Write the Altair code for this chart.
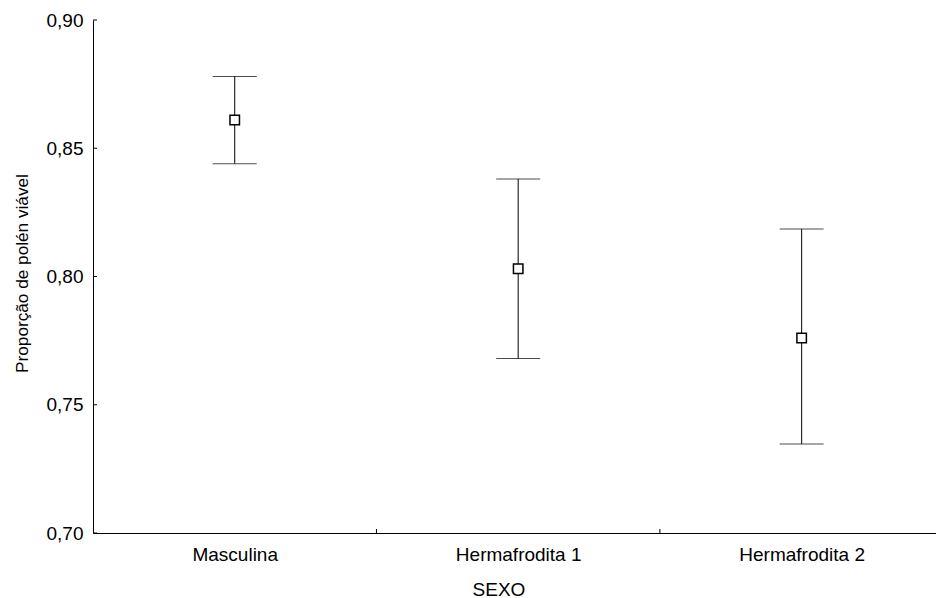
import json
import altair as alt
import pandas as pd

# ---- data ----
categories = ["Masculina", "Hermafrodita 1", "Hermafrodita 2"]
means = [0.861, 0.803, 0.776]
upper = [0.878, 0.838, 0.8185]
lower = [0.844, 0.768, 0.7347]
y_ticks = [0.70, 0.75, 0.80, 0.85, 0.90]
x_separators = [0.5, 1.5]

W, H = 843, 513
FONT = "Liberation Sans"
FS = 19

df = pd.DataFrame({
    "pos": list(range(len(categories))),
    "SEXO": categories,
    "mean": means,
    "upper": upper,
    "lower": lower,
})
ytick_df = pd.DataFrame({"v": y_ticks})
xtick_df = pd.DataFrame({"p": x_separators})

x_scale = alt.Scale(domain=[-0.5, 2.474], nice=False, zero=False)
y_scale = alt.Scale(domain=[0.70, 0.90], nice=False, zero=False)

label_expr = json.dumps(categories) + "[datum.value]"

x_axis = alt.Axis(
    values=[0, 1, 2], labelExpr=label_expr, tickSize=0, grid=False,
    labelFont=FONT, labelFontSize=FS, labelColor="black", labelPadding=12,
    labelFlush=False, labelOverlap=False, domainColor="black", domainWidth=1,
    title="SEXO", titleFont=FONT, titleFontSize=FS, titleFontWeight="normal",
    titleColor="black", titleX=405.5, titleY=62, titleBaseline="alphabetic",
    titleAlign="center",
)
y_axis = alt.Axis(
    values=y_ticks, labelExpr="replace(format(datum.value, '.2f'), '.', ',')",
    tickSize=0, grid=False, labelFont=FONT, labelFontSize=FS, labelColor="black",
    labelPadding=10, labelFlush=False, labelOverlap=False, domainColor="black",
    domainWidth=1, title="Proporção de polén viável", titleFont=FONT,
    titleFontSize=17.2, titleFontWeight="normal", titleColor="black",
    titleX=-66, titleY=253, titleAngle=270, titleBaseline="alphabetic",
    titleAlign="center",
)

base = alt.Chart(df)

whisker = base.mark_rule(color="black", strokeWidth=1).encode(
    x=alt.X("pos:Q", scale=x_scale, axis=x_axis),
    y=alt.Y("lower:Q", scale=y_scale, axis=y_axis),
    y2="upper:Q",
)
cap_hi = base.mark_tick(orient="horizontal", size=44, thickness=1, color="black").encode(
    x=alt.X("pos:Q", scale=x_scale), y=alt.Y("upper:Q", scale=y_scale)
)
cap_lo = base.mark_tick(orient="horizontal", size=44, thickness=1, color="black").encode(
    x=alt.X("pos:Q", scale=x_scale), y=alt.Y("lower:Q", scale=y_scale)
)
pts = base.mark_point(shape="square", size=90, filled=True, fill="white",
                      stroke="black", strokeWidth=1.5, opacity=1).encode(
    x=alt.X("pos:Q", scale=x_scale), y=alt.Y("mean:Q", scale=y_scale)
)
ytk = alt.Chart(ytick_df).mark_rule(color="black", strokeWidth=1).encode(
    y=alt.Y("v:Q", scale=y_scale), x=alt.value(0), x2=alt.value(4)
)
xtk = alt.Chart(xtick_df).mark_rule(color="black", strokeWidth=1).encode(
    x=alt.X("p:Q", scale=x_scale), y=alt.value(H), y2=alt.value(H - 4)
)

chart = alt.layer(whisker, cap_hi, cap_lo, ytk, xtk, pts).properties(
    width=W, height=H,
    autosize=alt.AutoSizeParams(type="none"),
    padding={"left": 93, "top": 20, "right": 0, "bottom": 65},
    background="white",
).configure_view(stroke=None)

chart.save("out.html", embed_options={"renderer": "svg", "actions": False})
